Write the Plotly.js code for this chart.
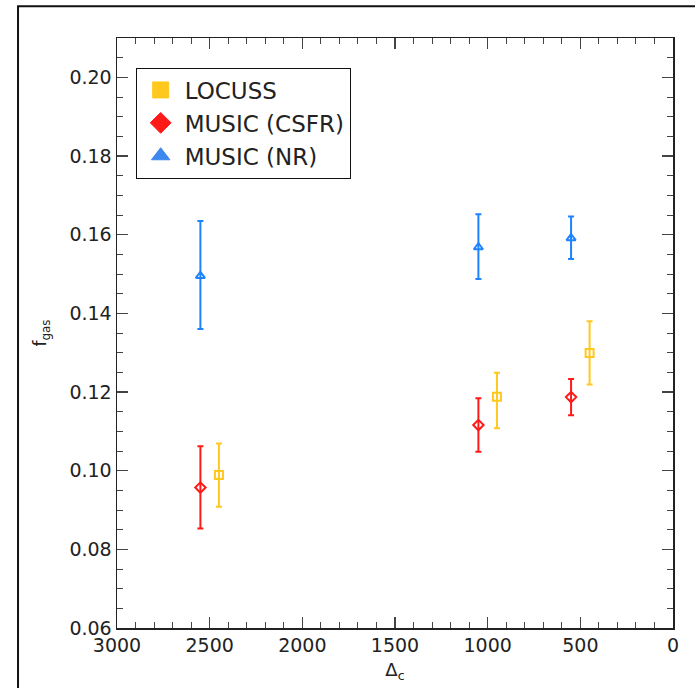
<!DOCTYPE html>
<html>
<head>
<meta charset="utf-8">
<script src="https://cdn.plot.ly/plotly-3.0.1.min.js"></script>
<style>html,body{margin:0;padding:0;background:#fff;}#plot{width:695px;height:688px;}</style>
</head>
<body>
<div id="plot"></div>
<script>
// Data
const seriesNames = ["LOCUSS", "MUSIC (CSFR)", "MUSIC (NR)"];

const locussX = [2450, 950, 450];
const locussY = [0.0989, 0.1188, 0.1299];
const locussHi = [0.1069, 0.1249, 0.1380];
const locussLo = [0.0908, 0.1108, 0.1219];

const csfrX = [2550, 1050, 550];
const csfrY = [0.0957, 0.1116, 0.1187];
const csfrHi = [0.1062, 0.1184, 0.1233];
const csfrLo = [0.0853, 0.1048, 0.1141];

const nrX = [2550, 1050, 550];
const nrY = [0.1495, 0.1568, 0.1591];
const nrHi = [0.1635, 0.1652, 0.1646];
const nrLo = [0.1360, 0.1487, 0.1538];

const xTickVals = [3000, 2500, 2000, 1500, 1000, 500, 0];
const yTickVals = [0.06, 0.08, 0.10, 0.12, 0.14, 0.16, 0.18, 0.20];

const colLocuss = "#FFC81E";
const colCsfr = "#FF1A1A";
const colNr = "#1E82FF";

function errTrace(x, y, hi, lo, color, symbol, name) {
  return {
    type: "scatter", mode: "markers", x: x, y: y, name: name, showlegend: false,
    marker: {symbol: symbol, size: 8, color: color, line: {color: color, width: 2}},
    error_y: {
      type: "data", symmetric: false,
      array: hi.map((h, i) => h - y[i]),
      arrayminus: lo.map((l, i) => y[i] - l),
      color: color, thickness: 2, width: 3
    }
  };
}
function legTrace(color, symbol, name) {
  return {
    type: "scatter", mode: "markers", x: [null], y: [null], name: name, showlegend: true,
    marker: {symbol: symbol, size: 16, color: color, line: {color: color, width: 1}}
  };
}

const traces = [
  errTrace(nrX, nrY, nrHi, nrLo, colNr, "triangle-up-open", seriesNames[2]),
  errTrace(csfrX, csfrY, csfrHi, csfrLo, colCsfr, "diamond-open", seriesNames[1]),
  errTrace(locussX, locussY, locussHi, locussLo, colLocuss, "square-open", seriesNames[0]),
  legTrace(colLocuss, "square", seriesNames[0]),
  legTrace(colCsfr, "diamond", seriesNames[1]),
  legTrace("#3C88EE", "triangle-up", seriesNames[2])
];

const axisCommon = {
  showgrid: false, zeroline: false, showline: true, linecolor: "#222", linewidth: 1.5,
  mirror: "ticks", ticks: "inside", ticklen: 11, tickwidth: 1.2, tickcolor: "#444",
  tickfont: {family: "DejaVu Sans, sans-serif", size: 19, color: "#222"}
};

const layout = {
  width: 695, height: 688,
  margin: {l: 117, r: 22, t: 38, b: 60},
  paper_bgcolor: "#fff", plot_bgcolor: "#fff",
  showlegend: true,
  legend: {
    x: 0.0336, y: 0.950, xanchor: "left", yanchor: "top",
    bordercolor: "#111", borderwidth: 1, bgcolor: "#fff",
    font: {family: "DejaVu Sans, sans-serif", size: 23, color: "#222"},
    traceorder: "normal", tracegroupgap: 0, itemwidth: 38
  },
  xaxis: Object.assign({}, axisCommon, {
    range: [3000, 0], tickvals: xTickVals, ticktext: xTickVals.map(String),
    minor: {dtick: 100, tick0: 0, ticks: "inside", ticklen: 6, tickcolor: "#444", tickwidth: 1, showgrid: false},
    title: {text: "Δ<sub>c</sub>", font: {family: "DejaVu Sans, sans-serif", size: 18, color: "#222"}, standoff: 8}
  }),
  yaxis: Object.assign({}, axisCommon, {
    range: [0.06, 0.21], tickvals: yTickVals, ticktext: yTickVals.map(v => v.toFixed(2)),
    minor: {dtick: 0.005, tick0: 0.06, ticks: "inside", ticklen: 6, tickcolor: "#444", tickwidth: 1, showgrid: false},
    title: {text: "f<sub>gas</sub>", font: {family: "DejaVu Sans, sans-serif", size: 17, color: "#222"}, standoff: 18}
  }),
  shapes: [{
    type: "rect", xref: "paper", yref: "paper",
    x0: -0.178, x1: 1.2, y0: -0.3, y1: 1.054,
    line: {color: "#111", width: 2}, fillcolor: "rgba(0,0,0,0)", layer: "below"
  }]
};

Plotly.newPlot("plot", traces, layout, {displayModeBar: false, staticPlot: true});
</script>
</body>
</html>
